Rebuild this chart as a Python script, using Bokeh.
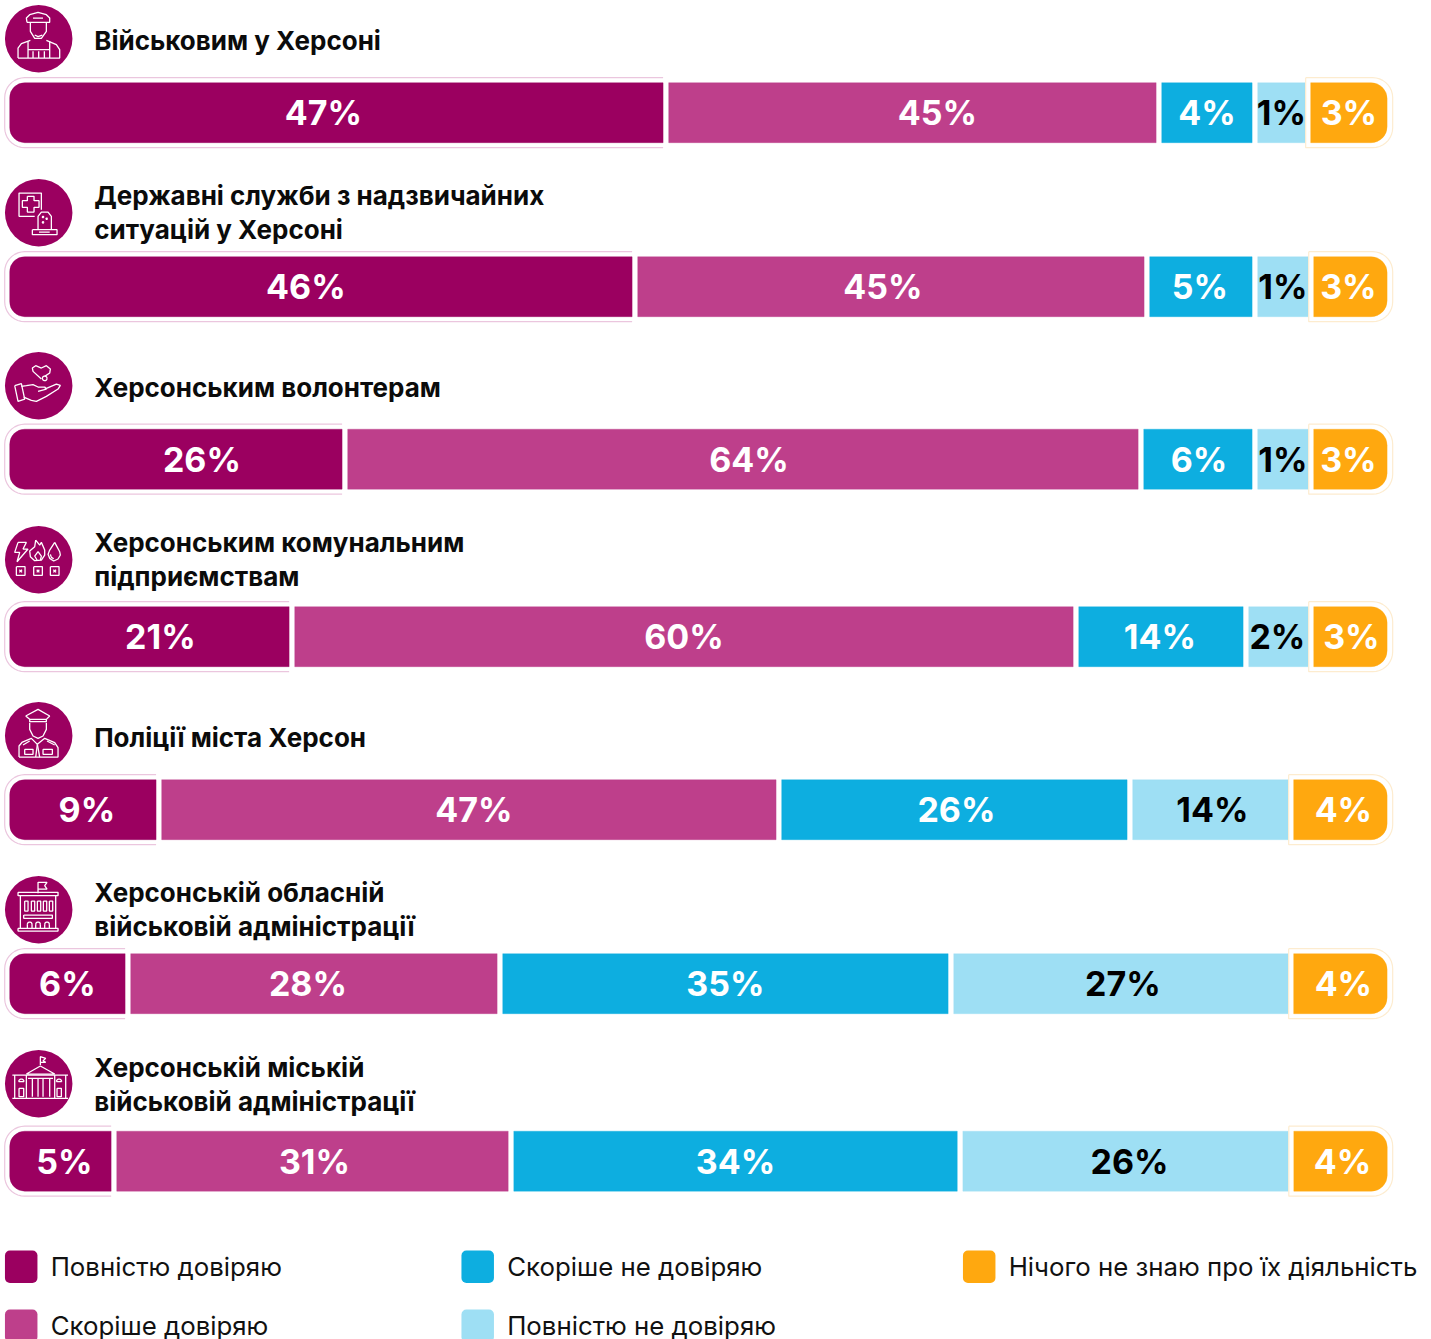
import numpy as np
from bokeh.plotting import figure
from bokeh.models import ColumnDataSource, Range1d
from bokeh.core.properties import value
from bokeh.embed import file_html
from bokeh.resources import INLINE

# ---- data -------------------------------------------------------------
institutions = [
    ["Військовим у Херсоні"],
    ["Державні служби з надзвичайних", "ситуацій у Херсоні"],
    ["Херсонським волонтерам"],
    ["Херсонським комунальним", "підприємствам"],
    ["Поліції міста Херсон"],
    ["Херсонській обласній", "військовій адміністрації"],
    ["Херсонській міській", "військовій адміністрації"],
]
answers = ["Повністю довіряю", "Скоріше довіряю", "Скоріше не довіряю",
           "Повністю не довіряю", "Нічого не знаю про їх діяльність"]
# printed labels
labels = [
    [47, 45, 4, 1, 3],
    [46, 45, 5, 1, 3],
    [26, 64, 6, 1, 3],
    [21, 60, 14, 2, 3],
    [9, 47, 26, 14, 4],
    [6, 28, 35, 27, 4],
    [5, 31, 34, 26, 4],
]
# drawn lengths of the segments (each row sums to 100)
lengths = [
    [47.65, 35.65, 6.94, 3.83, 5.93],
    [45.41, 37.02, 7.81, 4.05, 5.71],
    [24.44, 57.56, 8.24, 4.05, 5.71],
    [20.61, 56.69, 12.29, 4.70, 5.71],
    [10.99, 44.83, 25.38, 11.64, 7.16],
    [8.75, 26.90, 32.61, 24.58, 7.16],
    [7.74, 28.71, 32.47, 23.93, 7.16],
]
# ---- styles / layout ---------------------------------------------------
colors = ["#9B0060", "#BE3F8B", "#0DAEE0", "#9EDFF4", "#FFA80F"]
text_colors = ["white", "white", "white", "black", "white"]
FONT = "Inter"
W, H = 1431, 1339
SHIFT = 0.8
PX_LEFT, PX_UNIT = 10.0, 13.83
GAP = 5.6 / PX_UNIT
bar_y = [113, 287, 459.5, 637, 810, 984, 1161.5]
icon_y = [39, 213, 386, 560, 736, 910, 1084]
title_mid = [[40.5], [195.5, 230], [387.5], [542.5, 577], [737.5], [892.5, 927], [1067.5, 1102]]
label_dx = [
    [-13, 25, 0, 0, 0],
    [-15, -8, -1, 0, -2],
    [26, 6, 1, 0, -2],
    [11, 0, -1, -1, 1],
    [4, 5, 2, 2, 3],
    [0, -6, 0, 2, 3],
    [4, 2, 0, 4, 2],
]

p = figure(width=W, height=H, output_backend="svg", toolbar_location=None,
           x_range=Range1d((SHIFT - PX_LEFT) / PX_UNIT, (W + SHIFT - PX_LEFT) / PX_UNIT),
           y_range=Range1d(H + SHIFT, SHIFT), x_axis_type=None, y_axis_type=None,
           min_border=0, outline_line_color=None, background_fill_color="white")
p.grid.visible = False
p.extra_x_ranges = {"px": Range1d(SHIFT, W + SHIFT)}


def to_px(u):
    return PX_LEFT + PX_UNIT * u


def arc(cx, cy, r, a0, a1, n=10):
    t = np.radians(np.linspace(a0, a1, n))
    return list(cx + r * np.cos(t)), list(cy + r * np.sin(t))


# ---- bars --------------------------------------------------------------
for i, row in enumerate(lengths):
    edges = np.concatenate([[0], np.cumsum(row)])
    left = edges[:-1]
    right = edges[1:] - GAP
    y = bar_y[i]
    for j in range(5):
        radius = (15, 0, 0, 15) if j == 0 else ((0, 16, 16, 0) if j == 4 else 0)
        p.hbar(y=y, left=left[j], right=right[j], height=60, fill_color=colors[j],
               line_color=colors[j], line_alpha=0.35, line_width=1, border_radius=radius)
    # pale halo of the first segment (open on its right side)
    rx = to_px(right[0])
    xa, ya = arc(25, y - 15, 20, 270, 180)
    xb, yb = arc(25, y + 15, 20, 180, 90)
    p.line([rx] + xa + xb + [rx], [y - 35] + ya + yb + [y + 35],
           x_range_name="px", line_color="#EBC6DE", line_width=1.2)
    # pale halo of the last segment
    lx = to_px(left[4]) - 5
    xa, ya = arc(1373, y - 15, 20, 270, 360)
    xb, yb = arc(1373, y + 15, 20, 0, 90)
    p.line([lx] + xa + xb + [lx, lx], [y - 35] + ya + yb + [y + 35, y - 35],
           x_range_name="px", line_color="#FDECCF", line_width=1.2)
    src = ColumnDataSource(dict(x=(left + right) / 2, y=[y] * 5,
                                t=[f"{v}%" for v in labels[i]], dx=label_dx[i],
                                c=text_colors))
    p.text(x="x", y="y", text="t", x_offset="dx", source=src, text_color="c",
           text_font=value(FONT), text_font_style="bold", text_font_size="34px",
           text_align="center", text_baseline="middle")

# ---- titles ------------------------------------------------------------
for lines, mids in zip(institutions, title_mid):
    for t, b in zip(lines, mids):
        p.text(x=[94.5], y=[b], text=[t], x_range_name="px", text_color="#0B0B0B",
               text_font=value(FONT), text_font_style="bold", text_font_size="26px",
               text_align="left", text_baseline="middle")


# ---- icons (paths in 3x-crop units, origin = crop corner) --------------
def poly(*pts):
    return [list(a) for a in zip(*pts)]


def ring(cx, cy, r, a0=0, a1=360):
    return list(arc(cx, cy, r, a0, a1, 16))


def rect(x0, y0, x1, y1):
    return poly((x0, y0), (x1, y0), (x1, y1), (x0, y1), (x0, y0))


soldier = [
    poly((82, 68), (80, 55), (90, 45), (115, 38), (140, 45), (150, 55), (150, 68), (82, 68)),
    poly((92, 68), (92, 95), (105, 116), (125, 116), (140, 95), (140, 68)),
    poly((105, 106), (115, 111), (128, 106)),
    poly((55, 175), (55, 145), (65, 132), (92, 122)),
    poly((140, 122), (170, 135), (180, 150), (180, 175), (55, 175)),
    poly((85, 125), (85, 175)), poly((150, 125), (150, 175)),
    poly((85, 150), (150, 150)),
    poly((100, 155), (100, 175)), poly((117, 155), (117, 175)), poly((134, 155), (134, 175)),
    poly((100, 55), (130, 55)),
]
rescue = [
    poly((105, 125), (58, 125), (58, 55), (125, 55), (125, 105)),
    poly((83, 65), (103, 65), (103, 78), (118, 78), (118, 98), (103, 98), (103, 112),
         (83, 112), (83, 98), (68, 98), (68, 78), (83, 78), (83, 65)),
    poly((115, 165), (115, 125), (125, 112), (145, 112), (155, 125), (155, 165)),
    rect(98, 165, 172, 180),
    poly((118, 172), (150, 172)),
    ring(130, 127, 2), ring(141, 132, 2), ring(130, 143, 2),
]
hearts = [
    poly((125, 118), (100, 95), (98, 85), (108, 78), (125, 85), (140, 78), (152, 88), (150, 100), (135, 110)),
    ring(135, 116, 7),
    poly((45, 138), (65, 132), (75, 178), (55, 185), (45, 138)),
    poly((65, 140), (80, 138), (100, 135), (115, 142), (135, 142), (140, 148), (115, 155)),
    poly((135, 148), (170, 133), (182, 137), (175, 148), (140, 170), (110, 185), (95, 182), (72, 172)),
]
boxes = []
for cx in (63, 115, 165):
    boxes += [rect(cx - 13, 135, cx + 13, 161),
              poly((cx - 4, 144), (cx + 4, 152)), poly((cx + 4, 144), (cx - 4, 152))]
utilities = boxes + [
    poly((55, 62), (80, 62), (70, 82), (85, 82), (52, 120), (60, 92), (45, 92), (55, 62)),
    poly((108, 55), (120, 70), (125, 62), (135, 85), (135, 100), (125, 115), (105, 117),
         (92, 105), (90, 88), (105, 75), (108, 55)),
    poly((112, 115), (105, 103), (115, 90), (125, 103), (122, 115)),
    poly((165, 62), (180, 90), (182, 100), (175, 112), (162, 118), (150, 110), (145, 98), (150, 85), (165, 62)),
    poly((152, 98), (155, 107), (162, 111)),
]
police = [
    poly((78, 55), (115, 35), (150, 55), (140, 65), (90, 65), (78, 55)),
    poly((90, 65), (90, 72), (140, 72), (140, 65)),
    poly((90, 75), (90, 95), (100, 115), (115, 122), (130, 115), (140, 95), (140, 75)),
    poly((58, 178), (58, 145), (68, 133), (95, 122), (113, 140), (135, 122), (165, 135), (175, 150), (175, 178), (58, 178)),
    poly((113, 140), (108, 178)), poly((113, 140), (120, 178)),
    rect(75, 155, 100, 170), rect(130, 155, 158, 170),
    poly((70, 142), (90, 130)), poly((142, 130), (165, 142)),
]
oblast = [
    poly((115, 65), (115, 32), (142, 32), (135, 42), (142, 52), (115, 52)),
    rect(55, 62, 175, 72), rect(55, 170, 175, 178),
    poly((62, 72), (62, 170)), poly((168, 72), (168, 170)),
    rect(75, 88, 85, 118), rect(95, 88, 105, 118), rect(113, 88, 123, 118),
    rect(131, 88, 141, 118), rect(149, 88, 159, 118),
    rect(72, 130, 158, 140),
]
for cx in (90, 115, 142):
    oblast.append(list(arc(cx, 158, 7, 180, 360)))
    oblast += [poly((cx - 7, 158), (cx - 7, 170)), poly((cx + 7, 158), (cx + 7, 170))]
city = [
    poly((122, 55), (122, 30), (138, 35), (130, 42), (138, 47), (122, 47)),
    poly((80, 82), (122, 58), (165, 82), (80, 82)),
    poly((38, 85), (205, 85)), poly((38, 155), (205, 155)),
    poly((45, 85), (45, 155)), poly((198, 85), (198, 155)),
    poly((80, 85), (80, 155)), poly((165, 85), (165, 155)),
    poly((85, 95), (160, 95)),
    poly((98, 95), (98, 150)), poly((115, 95), (115, 150)), poly((130, 95), (130, 150)), poly((150, 95), (150, 150)),
    list(arc(65, 105, 8, 180, 360)), list(arc(178, 105, 8, 180, 360)),
    poly((57, 105), (73, 105)), poly((170, 105), (186, 105)),
    rect(58, 125, 72, 150), rect(172, 125, 185, 150),
]
icons = [soldier, rescue, hearts, utilities, police, oblast, city]
icon_origin = [0, 175, 340, 522, 698, 872, 1047]

p.scatter(x=[39] * 7, y=icon_y, size=67.5, x_range_name="px", fill_color=colors[0], line_color=None)
for paths, oy in zip(icons, icon_origin):
    p.multi_line(xs=[[v / 3 for v in a[0]] for a in paths],
                 ys=[[oy + v / 3 for v in a[1]] for a in paths],
                 x_range_name="px", line_color="white", line_width=1.3)

# ---- legend ------------------------------------------------------------
legend_x = [5, 5, 461.5, 461.5, 963]
legend_y = [1267, 1326, 1267, 1326, 1267]
p.rect(x=[v + 16.5 for v in legend_x], y=legend_y, width=32.5, height=32.5,
       width_units="screen", height_units="screen", x_range_name="px",
       fill_color=colors, line_color=None, border_radius=5)
for t, x, m in zip(answers, legend_x, legend_y):
    p.text(x=[x + 46], y=[m], text=[t], x_range_name="px", text_color="#111111",
           text_font=value(FONT), text_font_size="25.8px", text_align="left",
           text_baseline="middle")

open("out.html", "w").write(file_html(p, INLINE))
